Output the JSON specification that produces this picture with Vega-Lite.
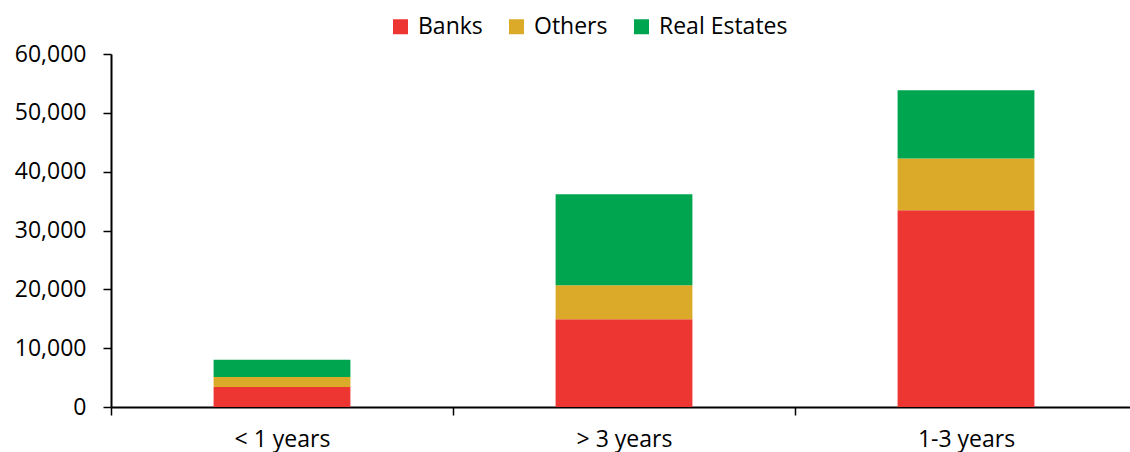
{
  "$schema": "https://vega.github.io/schema/vega-lite/v6.json",
  "autosize": "none",
  "width": 1026,
  "height": 353,
  "padding": {"left": 111, "top": 54, "right": 0, "bottom": 45},
  "background": "white",
  "config": {
    "font": "Open Sans",
    "view": {"stroke": null}
  },
  "data": {
    "values": [
      {"term": "< 1 years", "type": "Banks", "value": 3400},
      {"term": "< 1 years", "type": "Others", "value": 1700},
      {"term": "< 1 years", "type": "Real Estates", "value": 2950},
      {"term": "> 3 years", "type": "Banks", "value": 14900},
      {"term": "> 3 years", "type": "Others", "value": 5800},
      {"term": "> 3 years", "type": "Real Estates", "value": 15450},
      {"term": "1-3 years", "type": "Banks", "value": 33450},
      {"term": "1-3 years", "type": "Others", "value": 8800},
      {"term": "1-3 years", "type": "Real Estates", "value": 11600}
    ]
  },
  "mark": {"type": "bar", "width": {"band": 0.4}},
  "encoding": {
    "x": {
      "field": "term",
      "type": "nominal",
      "sort": null,
      "scale": {"paddingInner": 0, "paddingOuter": 0},
      "axis": {
        "title": null,
        "labelAngle": 0,
        "labelFontSize": 23,
        "labelColor": "#000",
        "labelPadding": 13,
        "tickBand": "extent",
        "tickSize": 8,
        "tickColor": "black",
        "tickWidth": 1.5,
        "domainColor": "black",
        "domainWidth": 2
      }
    },
    "y": {
      "field": "value",
      "type": "quantitative",
      "stack": "zero",
      "scale": {"domain": [0, 60000], "nice": false},
      "axis": {
        "title": null,
        "values": [0, 10000, 20000, 30000, 40000, 50000, 60000],
        "format": ",.0f",
        "grid": false,
        "labelFontSize": 23,
        "labelColor": "#000",
        "labelPadding": 17,
        "tickSize": 8,
        "tickColor": "black",
        "tickWidth": 1.5,
        "domainColor": "black",
        "domainWidth": 2
      }
    },
    "color": {
      "field": "type",
      "type": "nominal",
      "scale": {
        "domain": ["Banks", "Others", "Real Estates"],
        "range": ["#ED3631", "#DBAA29", "#00A54F"]
      },
      "legend": {
        "title": null,
        "orient": "none",
        "direction": "horizontal",
        "legendX": 278,
        "legendY": -39,
        "symbolType": "square",
        "symbolSize": 225,
        "symbolStrokeWidth": 0,
        "labelFontSize": 23,
        "labelColor": "#000",
        "labelOffset": 6,
        "columnPadding": 22
      }
    },
    "order": {"field": "type"}
  }
}
